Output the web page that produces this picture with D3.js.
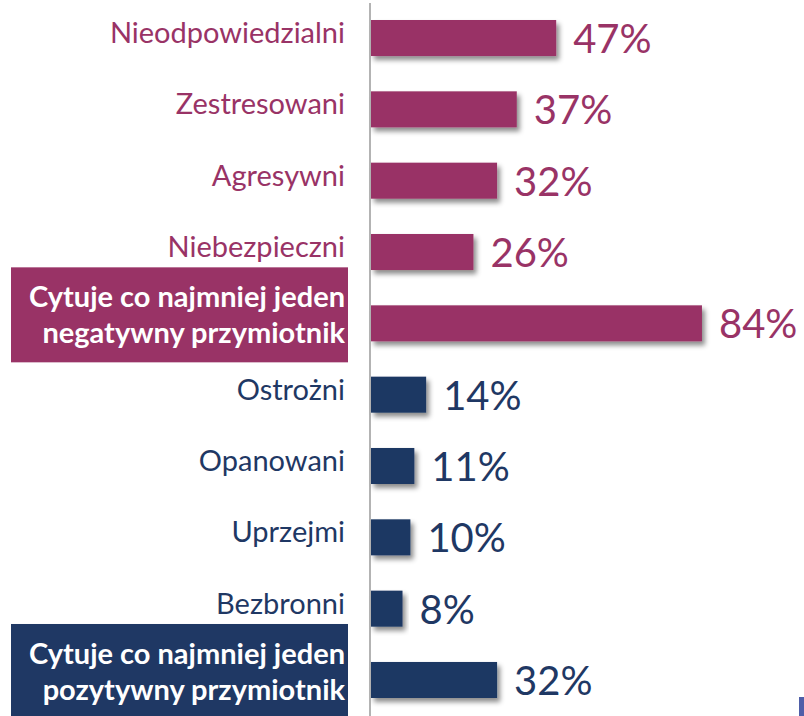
<!DOCTYPE html>
<html>
<head>
<meta charset="utf-8">
<script src="https://cdn.jsdelivr.net/npm/d3@7"></script>
<style>
  body { margin: 0; background: #fff; }
  svg { display: block; font-family: Lato, "Open Sans", sans-serif; }
</style>
</head>
<body>
<div id="chart"></div>
<script>
// data
const labels = [
  "Nieodpowiedzialni",
  "Zestresowani",
  "Agresywni",
  "Niebezpieczni",
  "Cytuje co najmniej jeden|negatywny przymiotnik",
  "Ostrożni",
  "Opanowani",
  "Uprzejmi",
  "Bezbronni",
  "Cytuje co najmniej jeden|pozytywny przymiotnik"
];
const values = [47, 37, 32, 26, 84, 14, 11, 10, 8, 32];
const groups = ["neg", "neg", "neg", "neg", "neg", "pos", "pos", "pos", "pos", "pos"];
const isSummary = [false, false, false, false, true, false, false, false, false, true];

const width = 804,
      height = 716;

const color = d3.scaleOrdinal()
    .domain(["neg", "pos"])
    .range(["#993366", "#1f3864"]);

const rows = labels.map((l, i) => ({
    label: l, value: values[i], group: groups[i], summary: isSummary[i], id: i
}));

const x = d3.scaleLinear()
    .domain([0, 100])
    .range([371, 765]);

const y = d3.scaleBand()
    .domain(rows.map(d => d.id))
    .range([20, 698])
    .paddingInner(0.495)
    .paddingOuter(0);

const svg = d3.select("#chart").append("svg")
    .attr("width", width)
    .attr("height", height)
    .attr("viewBox", `0 0 ${width} ${height}`);

// soft shadow under the bars
const defs = svg.append("defs");
defs.append("filter")
    .attr("id", "shadow")
    .attr("x", "-20%").attr("y", "-30%")
    .attr("width", "140%").attr("height", "180%")
  .append("feDropShadow")
    .attr("dx", 3)
    .attr("dy", 4)
    .attr("stdDeviation", 2.5)
    .attr("flood-color", "#000")
    .attr("flood-opacity", 0.45);

// bars
svg.append("g")
    .selectAll("rect")
    .data(rows)
    .join("rect")
    .attr("x", x(0))
    .attr("y", d => y(d.id))
    .attr("width", d => x(d.value) - x(0))
    .attr("height", y.bandwidth())
    .attr("fill", d => color(d.group))
    .attr("filter", "url(#shadow)");

// vertical axis line
svg.append("line")
    .attr("x1", 370).attr("x2", 370)
    .attr("y1", 3).attr("y2", height)
    .attr("stroke", "#9a9a9a")
    .attr("stroke-width", 1.5);

// value labels
svg.append("g")
    .selectAll("text")
    .data(rows)
    .join("text")
    .attr("x", d => x(d.value) + 17)
    .attr("y", d => y(d.id) + y.bandwidth() / 2 + 15)
    .attr("fill", d => color(d.group))
    .style("font-size", "40px")
    .text(d => d.value + "%");

// plain category labels
svg.append("g")
    .selectAll("text")
    .data(rows.filter(d => !d.summary))
    .join("text")
    .attr("x", 345)
    .attr("y", d => y(d.id) + y.bandwidth() / 2 + 5)
    .attr("text-anchor", "end")
    .attr("fill", d => color(d.group))
    .style("font-size", "29px")
    .text(d => d.label);

// summary rows get a filled box with white bold text
const summary = svg.append("g")
    .selectAll("g")
    .data(rows.filter(d => d.summary))
    .join("g")
    .attr("transform", d => `translate(0,${y(d.id) + y.bandwidth() / 2 - 56})`);

summary.append("rect")
    .attr("x", 11)
    .attr("width", 337)
    .attr("height", 95)
    .attr("fill", d => color(d.group));

summary.append("text")
    .attr("text-anchor", "end")
    .attr("fill", "#fff")
    .style("font-size", "29px")
    .style("font-weight", "bold")
    .selectAll("tspan")
    .data(d => d.label.split("|"))
    .join("tspan")
    .attr("x", 345)
    .attr("y", (d, i) => 40 + i * 36)
    .text(d => d);

// small cut-off marker in the corner
svg.append("rect")
    .attr("x", 799).attr("y", 697)
    .attr("width", 5).attr("height", 19)
    .attr("fill", "#4f5ea8");
</script>
</body>
</html>
